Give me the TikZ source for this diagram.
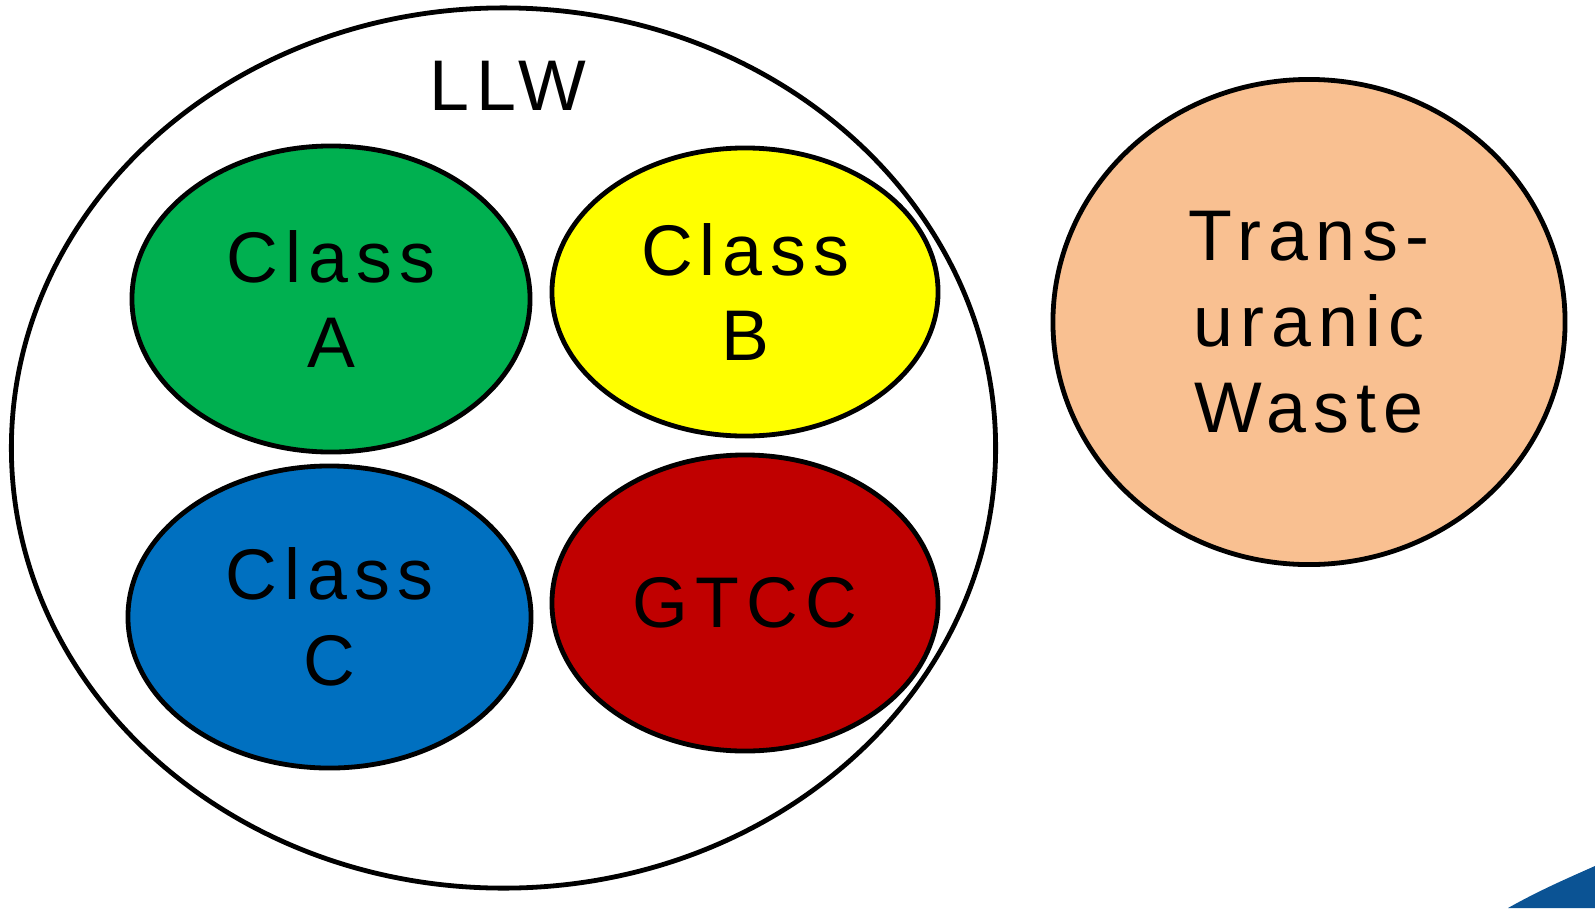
\documentclass[tikz,border=0pt]{standalone}
\usepackage{fontspec}
\setmainfont[LetterSpace=10]{Liberation Sans}
\usetikzlibrary{shapes.geometric}
\definecolor{classa}{HTML}{00B050}
\definecolor{classb}{HTML}{FFFF00}
\definecolor{classc}{HTML}{0070C0}
\definecolor{gtcc}{HTML}{C00000}
\definecolor{tru}{HTML}{F9C091}
\definecolor{corner}{HTML}{0B5394}
\begin{document}
\begin{tikzpicture}[x=0.025cm,y=-0.025cm,
    blob/.style={ellipse,draw=black,line width=0.12cm,align=center,inner sep=0pt,
        font=\fontsize{51}{61}\selectfont}]
    \useasboundingbox (0,0) rectangle (1595,908);

    \node[blob,minimum width=24.6cm,minimum height=22cm] (llw) at (503.5,448) {};
    \node[font=\fontsize{51}{61}\selectfont] (llwlabel) at (508,86) {LLW}; % outer label

    \node[blob,fill=classa,minimum width=9.95cm,minimum height=7.65cm] (a) at (331,299) {Class\\A};
    \node[blob,fill=classb,minimum width=9.65cm,minimum height=7.2cm] (b) at (745,292) {Class\\B};
    \node[blob,fill=classc,minimum width=10.075cm,minimum height=7.55cm] (c) at (329.5,617) {Class\\C};
    \node[blob,fill=gtcc,minimum width=9.65cm,minimum height=7.4cm] (g) at (745,603) {GTCC};

    \node[blob,fill=tru,minimum width=12.8cm,minimum height=12.125cm] (tru) at (1309,322) {Trans-\\uranic\\Waste};

    % corner of the slide background
    \fill[corner] (1508,908) .. controls (1540,890) and (1568,878) .. (1595,866) -- (1595,908) -- cycle;
\end{tikzpicture}
\end{document}
